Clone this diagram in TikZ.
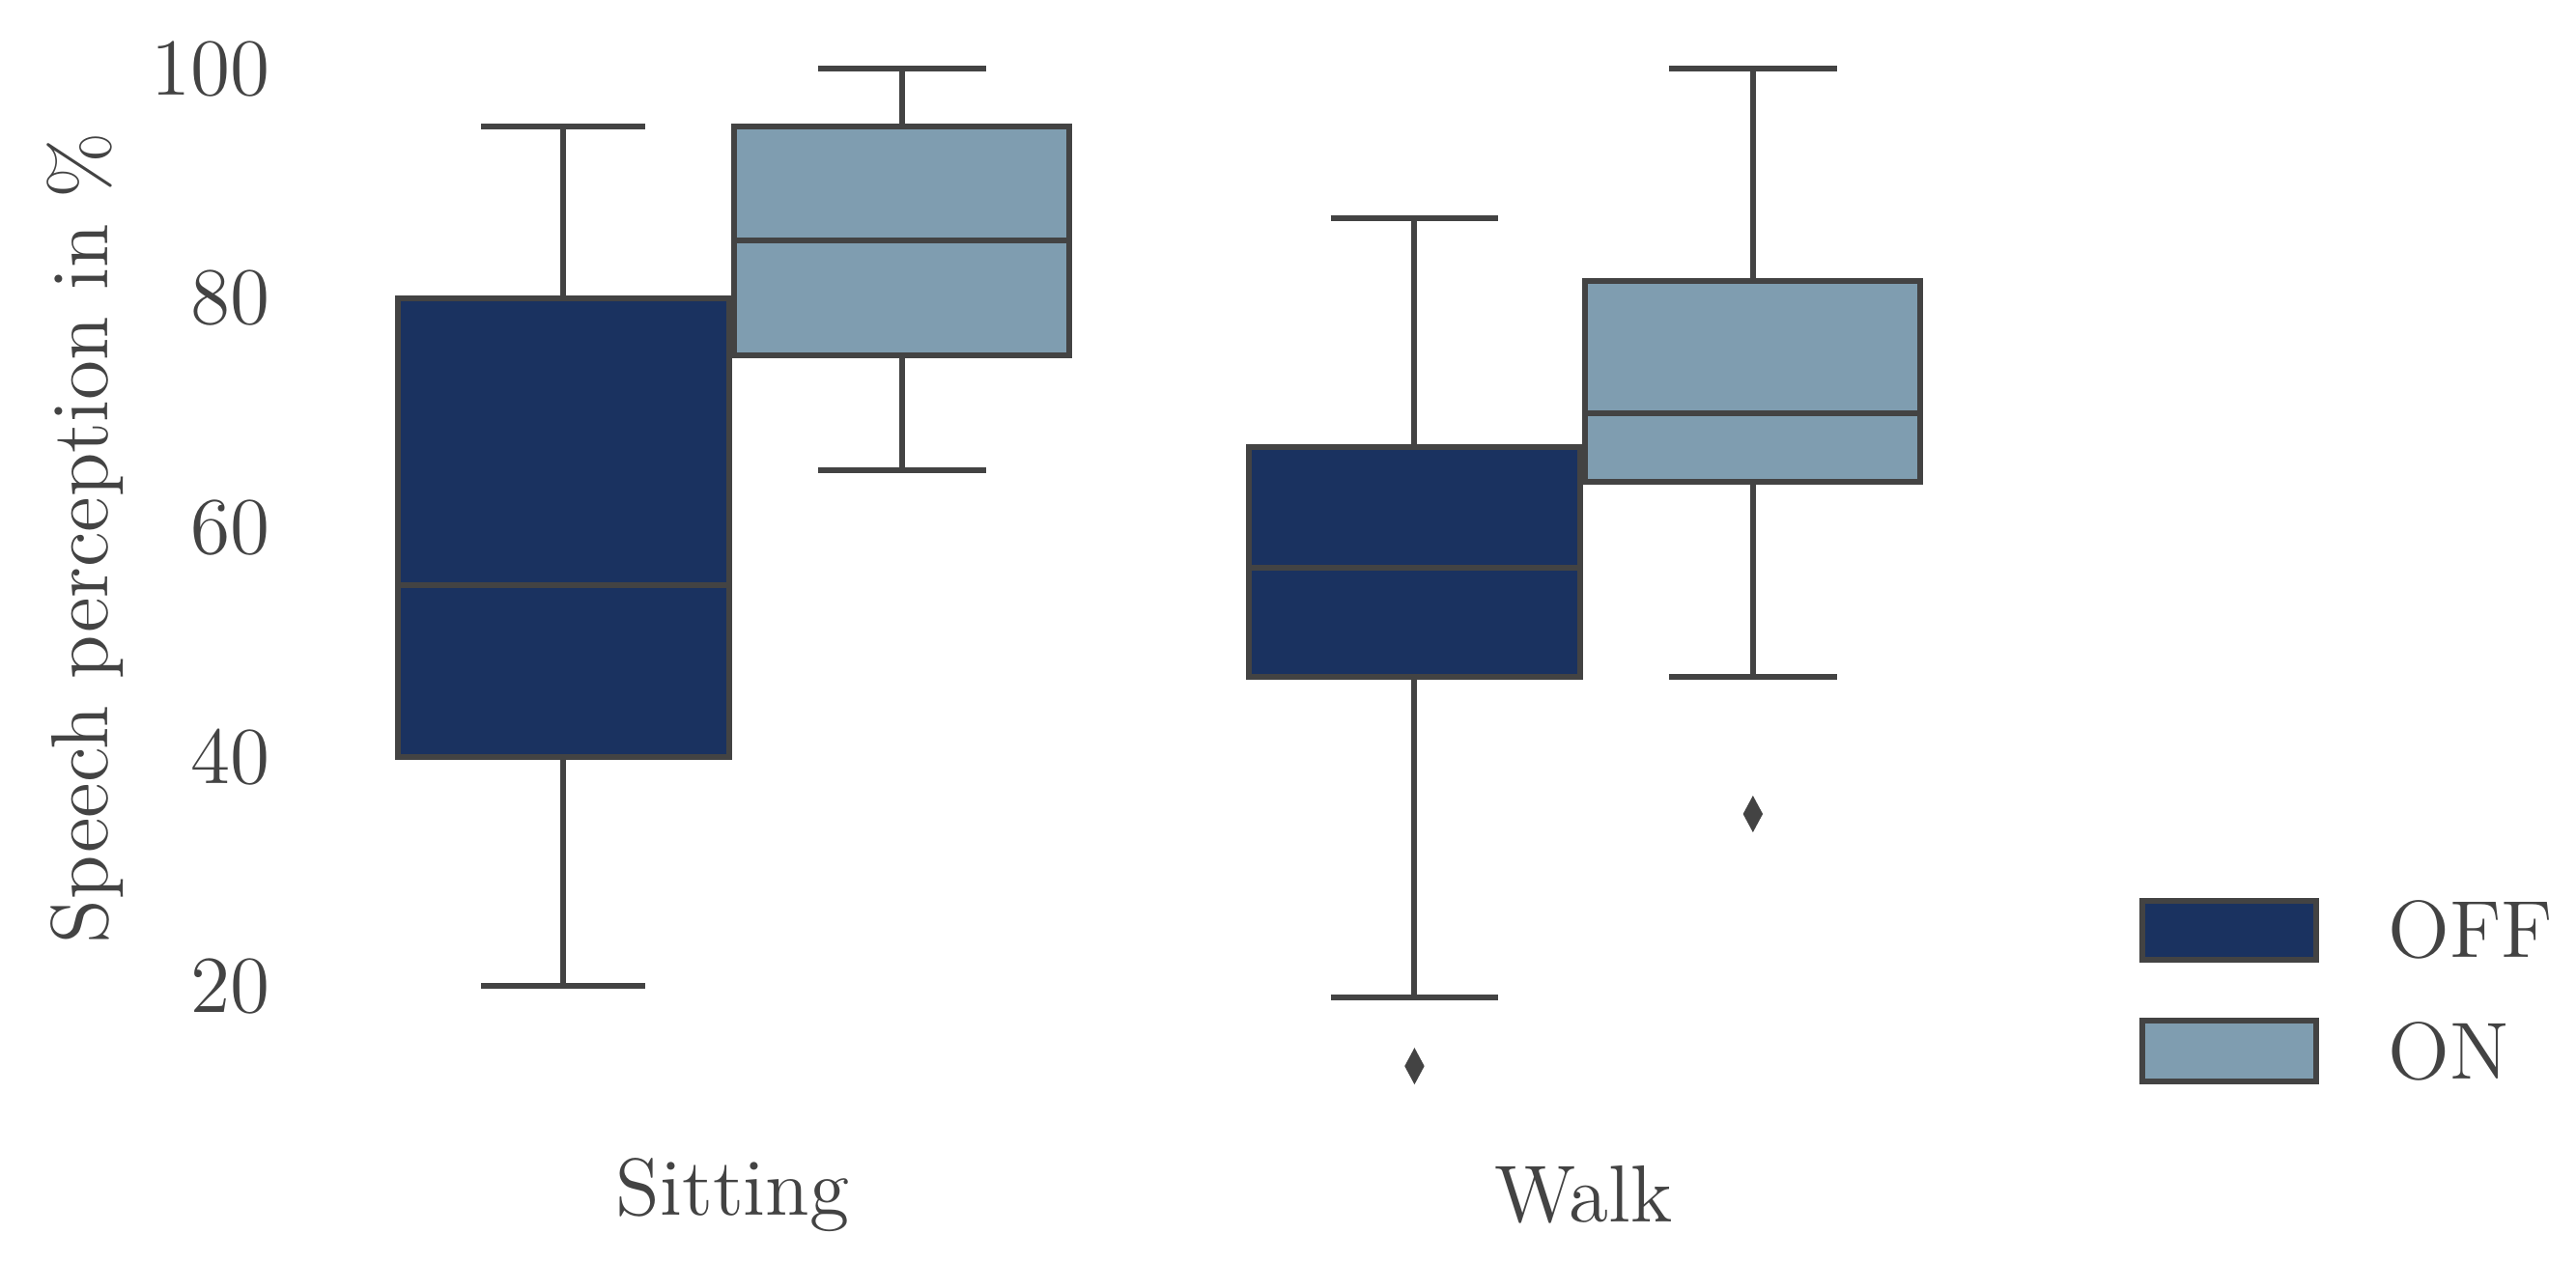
\documentclass[tikz,border=0pt]{standalone}
\definecolor{offc}{HTML}{1A3260}
\definecolor{onc}{HTML}{7F9DB0}
\definecolor{edge}{HTML}{434343}
\begin{document}
\begin{tikzpicture}[x=0.01cm,y=0.01cm,
  bx/.style={draw=edge,line width=1pt},
  ln/.style={draw=edge,line width=1pt},
  txt/.style={text=edge,font=\fontsize{14}{16}\selectfont,inner sep=0}]
\useasboundingbox (0,0) rectangle (1568,768.4);
\begin{scope}[yshift=0.285cm,y=0.06975cm]
% Sitting OFF
\draw[ln] (343,20)--(343,40) (343,80)--(343,95) (293,20)--(393,20) (293,95)--(393,95);
\draw[bx,fill=offc] (242,40) rectangle (444,80);
\draw[ln] (242,55)--(444,55);
% Sitting ON
\draw[ln] (549,65)--(549,75) (549,95)--(549,100) (498,65)--(600,65) (498,100)--(600,100);
\draw[bx,fill=onc] (447,75) rectangle (651,95);
\draw[ln] (447,85)--(651,85);
% Walk OFF
\draw[ln] (861,19)--(861,47) (861,67)--(861,87) (810,19)--(912,19) (810,87)--(912,87);
\draw[bx,fill=offc] (760,47) rectangle (962,67);
\draw[ln] (760,56.5)--(962,56.5);
\fill[edge] (861,14.6)--(867,13)--(861,11.4)--(855,13)--cycle;
% Walk ON
\draw[ln] (1067,47)--(1067,64) (1067,81.5)--(1067,100) (1016,47)--(1118,47) (1016,100)--(1118,100);
\draw[bx,fill=onc] (965,64) rectangle (1169,81.5);
\draw[ln] (965,70)--(1169,70);
\fill[edge] (1067,36.6)--(1073,35)--(1067,33.4)--(1061,35)--cycle;
% ticks
\foreach \v in {20,40,60,80,100}
  \node[txt,anchor=east] (t\v) at (165,\v) {\v};
\end{scope}
\node[txt,rotate=90] (yl) at (52,441) {Speech perception in \%};
\node[txt] (xs) at (446,41) {Sitting};
\node[txt] (xw) at (964,41) {Walk};
\draw[bx,fill=offc] (1304,184) rectangle (1410,220);
\draw[bx,fill=onc] (1304,110) rectangle (1410,147);
\node[txt,anchor=west] (loff) at (1453,202) {OFF};
\node[txt,anchor=west] (lon) at (1453,128) {ON};
\end{tikzpicture}
\end{document}
